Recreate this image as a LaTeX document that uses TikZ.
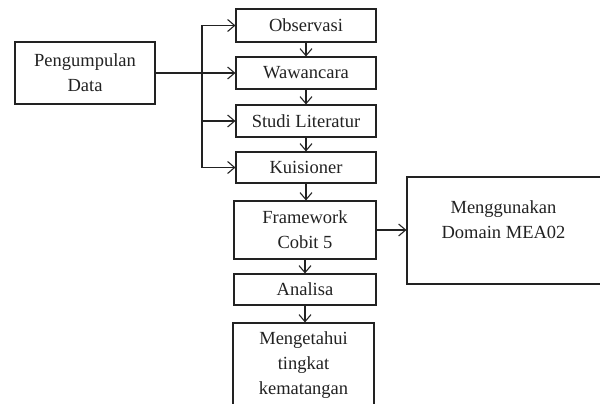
\documentclass[tikz,border=0pt]{standalone}
\usepackage{fontspec}
\setmainfont{Liberation Serif}
\usetikzlibrary{arrows.meta}
\definecolor{ink}{HTML}{222222}
\tikzset{
  box/.style={draw=ink, line width=1.1pt, rectangle, inner sep=0pt, text=ink, align=center,
    font=\fontsize{18.5}{25}\selectfont},
  lbl/.style={inner sep=0pt, text=ink, align=center, font=\fontsize{18.5}{25}\selectfont},
  arr/.style={draw=ink, line width=1.1pt, -{Straight Barb[length=7pt,width=12pt,line width=1.1pt]}},
  ln/.style={draw=ink, line width=1.1pt}
}
\begin{document}
\begin{tikzpicture}[x=1pt,y=-1pt]
\useasboundingbox (0,0) rectangle (600,404);
\fill[white] (0,0) rectangle (600,404);
\node[box, minimum width=140pt, minimum height=62pt] (pd) at (85,73) {Pengumpulan\\Data};
\node[box, minimum width=140pt, minimum height=33pt] (obs) at (306,25.5) {Observasi};
\node[box, minimum width=140pt, minimum height=32pt] (ww) at (306,73) {Wawancara};
\node[box, minimum width=140pt, minimum height=32pt] (sl) at (306,121) {Studi Literatur};
\node[box, minimum width=140pt, minimum height=31pt] (ku) at (306,167.5) {Kuisioner};
\node[box, minimum width=142pt, minimum height=58pt] (fw) at (305,230) {Framework\\Cobit 5};
\node[box, minimum width=142pt, minimum height=31pt] (an) at (305,289.5) {Analisa};
\node[box, minimum width=141pt, minimum height=84pt] (mk) at (303.5,365) {Mengetahui\\tingkat\\kematangan};
\node[box, minimum width=194.5pt, minimum height=107pt] (rb) at (504.25,230.5) {};
\node[lbl] (rbt) at (503.5,219.5) {Menggunakan\\Domain MEA02};
\coordinate (br) at (202,0);
\draw[arr] (pd.east) -- (ww.west);
\draw[ln] (br |- obs.west) -- (br |- ku.west);
\draw[arr] (br |- obs.west) -- (obs.west);
\draw[arr] (br |- sl.west) -- (sl.west);
\draw[arr] (br |- ku.west) -- (ku.west);
\draw[arr] (obs.south) -- (ww.north);
\draw[arr] (ww.south) -- (sl.north);
\draw[arr] (sl.south) -- (ku.north);
\draw[arr] (ku.south) -- (ku.south |- fw.north);
\draw[arr] (fw.south) -- (an.north);
\draw[arr] (an.south) -- (an.south |- mk.north);
\draw[arr] (fw.east) -- (rb.west |- fw.east);
\end{tikzpicture}
\end{document}
